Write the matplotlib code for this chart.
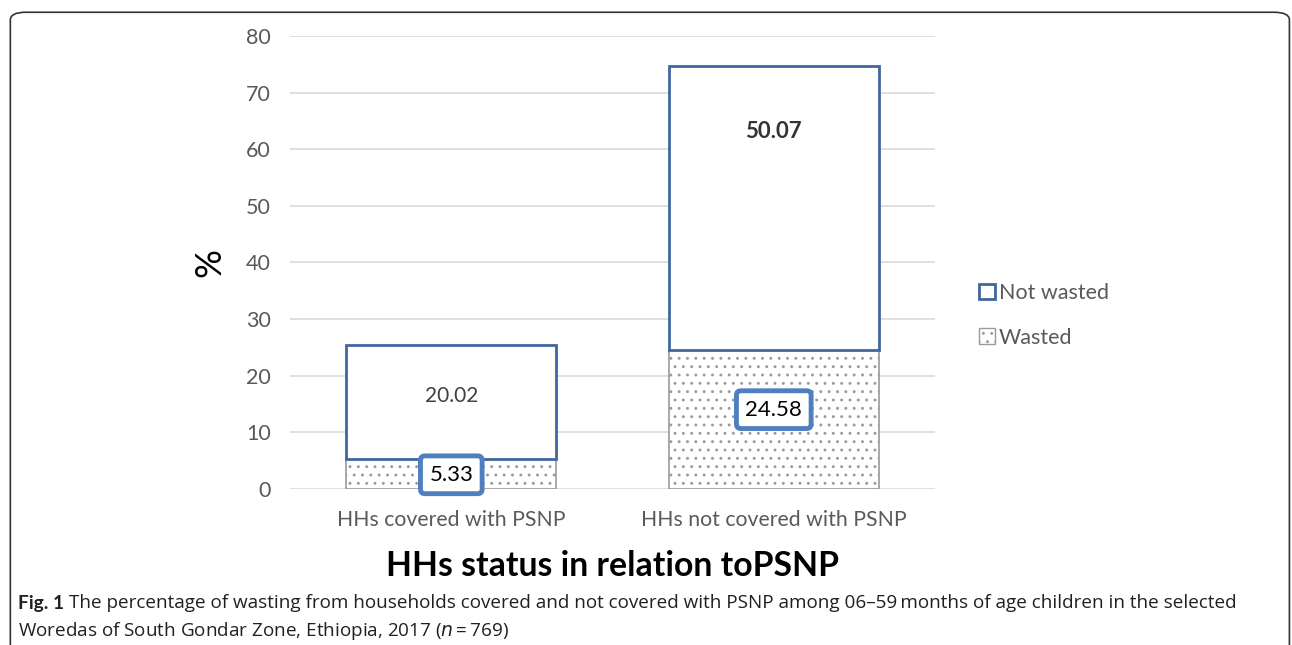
import matplotlib
matplotlib.use("Agg")
import matplotlib.pyplot as plt
from matplotlib.patches import Patch, FancyBboxPatch

categories = ["HHs covered with PSNP", "HHs not covered with PSNP"]
wasted = [5.33, 24.58]
not_wasted = [20.02, 50.07]
series_names = ["Not wasted", "Wasted"]
yticks = [0, 10, 20, 30, 40, 50, 60, 70, 80]

BLUE = "#41679e"
BOX_BLUE = "#4f7fbf"
GRAY_TXT = "#595959"
HATCH_GRAY = "#9a9a9a"

plt.rcParams['font.family'] = ['Lato', 'DejaVu Sans']
plt.rcParams['hatch.linewidth'] = 0.9

fig = plt.figure(figsize=(12.92, 6.45), dpi=100)
ax = fig.add_axes([0.2245, 0.2419, 0.4992, 0.7023])

x = list(range(len(categories)))
width = 0.65
b1 = ax.bar(x, wasted, width=width, color="white", edgecolor=HATCH_GRAY,
            hatch="..", linewidth=1.2, zorder=3)
b2 = ax.bar(x, not_wasted, width=width, bottom=wasted, color="white",
            edgecolor=BLUE, linewidth=2, zorder=3)

ax.set_xlim(-0.5, 1.5)
ax.set_ylim(0, 80)
ax.set_yticks(yticks)
ax.set_xticks(x)
ax.set_xticklabels(categories, fontsize=15.3, color=GRAY_TXT)
ax.tick_params(axis='y', labelsize=15.5, labelcolor=GRAY_TXT, length=0, pad=14)
ax.tick_params(axis='x', length=0, pad=15)
ax.grid(axis='y', color="#d9d9d9", linewidth=1.2, zorder=0)
for s in ax.spines.values():
    s.set_visible(False)

# value labels
nw_frac = [0.55, 0.77]
nw_bold = ["normal", "bold"]
nw_size = [15, 16]
nw_color = ["#404040", "#333333"]
w_frac = [0.47, 0.57]
for i in x:
    ax.text(i, wasted[i] + not_wasted[i] * nw_frac[i], f"{not_wasted[i]:.2f}",
            ha="center", va="center", fontsize=nw_size[i], fontweight=nw_bold[i],
            color=nw_color[i], zorder=5)
    ax.text(i, wasted[i] * w_frac[i], f"{wasted[i]:.2f}", ha="center", va="center",
            fontsize=16, color="black", zorder=6,
            bbox=dict(boxstyle="round,pad=0.4,rounding_size=0.2", fc="white",
                      ec=BOX_BLUE, lw=3.5))

ax.set_ylabel("%", fontsize=26, color="black", labelpad=14)
fig.text(0.4737, 0.123, "HHs status in relation toPSNP", ha="center", va="center",
         fontsize=24.3, fontweight="bold", color="black")

handles = [Patch(fc="white", ec=BLUE, lw=2),
           Patch(fc="white", ec=HATCH_GRAY, hatch="..", lw=1)]
leg = ax.legend(handles, series_names, loc="center left",
                bbox_to_anchor=(0.743, 0.511), bbox_transform=fig.transFigure,
                frameon=False, fontsize=15.5, labelcolor=GRAY_TXT,
                handlelength=0.75, handleheight=0.75, handletextpad=0.15,
                labelspacing=1.15)

# caption
cap_font = ["Open Sans", "DejaVu Sans"]
fig_lbl = fig.text(0.014, 0.065, "Fig. 1", fontsize=13.8, fontweight="bold",
                   color="#231f20", family=["Lato", "DejaVu Sans"], va="center")
fig.canvas.draw()
ext = fig_lbl.get_window_extent(fig.canvas.get_renderer())
x_main = (ext.x1 + 5) / fig.bbox.width
fig.text(x_main, 0.065,
         "The percentage of wasting from households covered and not covered with PSNP among 06\u201359\u2009months of age children in the selected",
         fontsize=13.6, color="#231f20", family=cap_font, va="center")
fig.text(0.014, 0.022,
         "Woredas of South Gondar Zone, Ethiopia, 2017 ($n$\u2009=\u2009769)",
         fontsize=13.6, color="#231f20", family=cap_font, va="center")

frame = FancyBboxPatch((0.008, -0.05), 0.99, 1.031, transform=fig.transFigure,
                       boxstyle="round,pad=0,rounding_size=0.012",
                       fc="none", ec="#333333", lw=1.2, clip_on=False)
fig.patches.append(frame)

fig.savefig("out.png", dpi=100)
